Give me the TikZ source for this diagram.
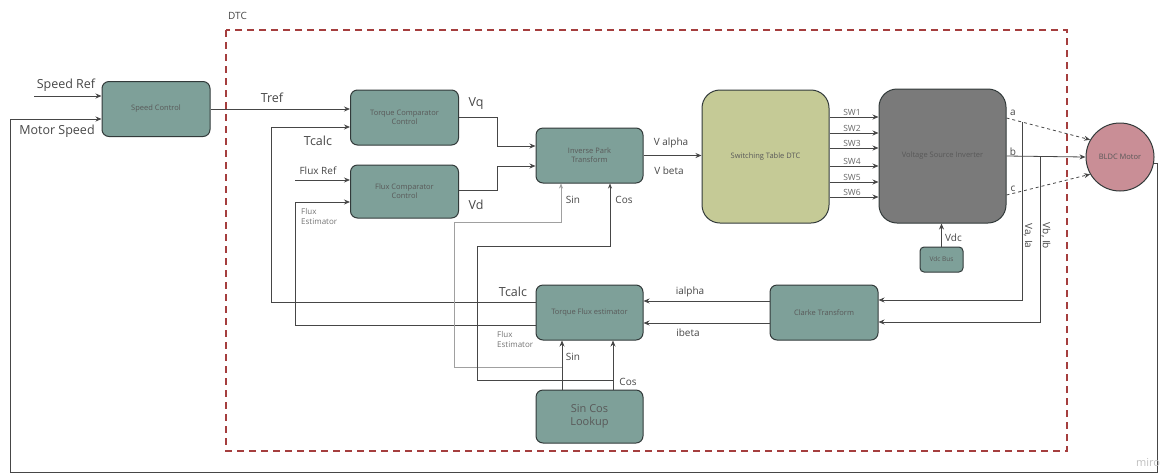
\documentclass[tikz,border=0pt]{standalone}
\usepackage{fontspec}
\setmainfont{Open Sans}
\usetikzlibrary{arrows.meta,positioning}
\definecolor{tealbox}{RGB}{126,160,153}
\definecolor{olivebox}{RGB}{197,202,150}
\definecolor{invgray}{RGB}{122,122,122}
\definecolor{motorpink}{RGB}{201,142,150}
\definecolor{edgegray}{RGB}{50,58,58}
\definecolor{dtcred}{RGB}{165,62,62}
\definecolor{wiregray}{RGB}{70,70,70}
\definecolor{lightwire}{RGB}{160,160,160}
\definecolor{labelgray}{RGB}{70,70,70}

\begin{document}
\begin{tikzpicture}[
  x=1pt, y=-1pt,
  block/.style={
    draw=edgegray,
    line width=1pt,
    rounded corners=7pt,
    fill=tealbox,
    align=center,
    font=\fontsize{7.5}{9}\selectfont,
    text=black!65,
    minimum width=108pt,
    minimum height=55pt,
    inner sep=2pt
  },
  bigblock/.style={
    block,
    minimum width=127pt,
    rounded corners=18pt
  },
  wire/.style={draw=wiregray, line width=0.8pt},
  feed/.style={wire, -{Stealth[length=6pt,width=5pt]}},
  sinwire/.style={draw=lightwire, line width=0.6pt, -{Stealth[length=5pt,width=4pt]}},
  biglbl/.style={font=\fontsize{12.5}{14}\selectfont, text=labelgray, inner sep=0pt},
  lbl/.style={font=\fontsize{10}{12}\selectfont, text=labelgray, inner sep=0pt},
  smalllbl/.style={font=\fontsize{8}{10}\selectfont, text=black!55, inner sep=0pt, align=left}
]
\useasboundingbox (0,0) rectangle (1161,475);

% DTC frame
\draw[dtcred, line width=1.4pt, dash pattern=on 7pt off 5pt] (226,30) rectangle (1067,451);
\node[lbl, anchor=west] (dtc) at (228,16) {DTC};

% blocks
\node[block] (spd) at (156,109) {Speed Control};
\node[block] (tcc) at (404.5,117.5) {Torque Comparator\\Control};
\node[block, minimum height=53pt] (fcc) at (404.5,191.5) {Flux Comparator\\Control};
\node[block, minimum width=107pt] (ipt) at (589.5,155.5) {Inverse Park\\Transform};
\node[bigblock, fill=olivebox, minimum height=133pt] (swt) at (765.5,156.5) {Switching Table DTC};
\node[bigblock, fill=invgray, minimum height=134pt] (vsi) at (942.5,156) {Voltage Source Inverter};
\node[block, minimum width=43pt, minimum height=25pt, rounded corners=4pt,
  font=\fontsize{6.5}{8}\selectfont] (vdc) at (941.5,259.5) {Vdc Bus};
\node[circle, draw=edgegray, line width=1pt, fill=motorpink, minimum size=68pt,
  font=\fontsize{7.5}{9}\selectfont, text=black!65, inner sep=0pt] (motor) at (1120,157) {BLDC Motor};
\node[block, minimum width=107pt] (tfe) at (589.5,312.5) {Torque Flux estimator};
\node[block, minimum width=107pt, minimum height=53pt, font=\fontsize{11}{13}\selectfont] (scl) at (589.5,416.5) {Sin Cos\\Lookup};
\node[block] (clk) at (824,312.5) {Clarke Transform};

% speed inputs
\coordinate (sref) at (34,96);
\draw[feed] (sref) -- (sref -| spd.west);
\node[biglbl] (sreflbl) at (66,85) {Speed Ref};
\draw[feed] (motor.-10) -| (1157,472) -| (10,119) -- (spd.west |- 10,119);
\node[biglbl] (mspdlbl) at (57,131) {Motor Speed};

% torque and flux loops
\draw[feed] (spd.east) -- (spd.east -| tcc.west);
\node[biglbl] (treflbl) at (272,98) {Tref};
\draw[feed] ([yshift=10.5pt]tfe.west) -| (271,127) -- ([yshift=-9.5pt]tcc.west);
\node[biglbl] (tcalcA) at (318,141) {Tcalc};
\node[biglbl] (tcalcB) at (513,292) {Tcalc};
\coordinate (fref) at (295,180);
\draw[feed] (fref) -- (fref -| fcc.west);
\node[lbl] (freflbl) at (318,171) {Flux Ref};
\draw[feed] ([yshift=-12.5pt]tfe.west) -| (295,202) -- ([yshift=-10.5pt]fcc.west);
\node[smalllbl, anchor=north west] (festA) at (301,208) {Flux\\Estimator};
\node[smalllbl, anchor=north west] (festB) at (497,331) {Flux\\Estimator};

% to inverse park
\draw[feed] (tcc.east) -| (497,146) -- ([yshift=9.5pt]ipt.west);
\draw[feed] ([yshift=1.5pt]fcc.east) -| (497,166) -- ([yshift=-10.5pt]ipt.west);
\node[biglbl] (vqlbl) at (476,104) {Vq};
\node[biglbl] (vdlbl) at (476,205) {Vd};
\draw[feed] (ipt.east) -- (ipt.east -| swt.west);
\node[lbl] (valbl) at (671,143) {V alpha};
\node[lbl] (vblbl) at (669,171) {V beta};

% switching signals
\foreach \i/\y in {1/117,2/133,3/148,4/166,5/182,6/197}
  \draw[feed] (swt.east |- 0,\y) -- (vsi.west |- 0,\y)
    node[midway, above=1.5pt, xshift=-2pt, font=\fontsize{8.5}{10}\selectfont, text=black!60, inner sep=0pt] {SW\i};

% dc bus
\draw[feed] (vdc.north) -- (vdc.north |- vsi.south);
\node[lbl, anchor=west] (vdclbl) at (945,238) {Vdc};

% phases
\draw[wire, dashed, -{Stealth[length=6pt,width=5pt]}] ([yshift=38pt]vsi.east) -- (motor.150);
\draw[feed] (vsi.east) -- (motor.west);
\draw[wire, dashed, -{Stealth[length=6pt,width=5pt]}] ([yshift=-39pt]vsi.east) -- (motor.210);
\node[lbl] (alb) at (1013,113) {a};
\node[lbl] (blb) at (1013,152) {b};
\node[lbl] (clb) at (1013,189) {c};

% current feedback
\coordinate (abr) at (1022,122);
\coordinate (bbr) at (1040,156);
\draw[feed] (abr) |- ([yshift=12.5pt]clk.east);
\draw[feed] (bbr) |- ([yshift=-9.5pt]clk.east);
\node[lbl, rotate=-90] (valbl2) at (1028,236) {Va, Ia};
\node[lbl, rotate=-90] (vblbl2) at (1046,236) {Vb, Ib};
\draw[feed] ([yshift=11.5pt]clk.west) -- ([yshift=11.5pt]tfe.east);
\draw[feed] ([yshift=-10.5pt]clk.west) -- ([yshift=-10.5pt]tfe.east);
\node[lbl] (ialbl) at (690,292) {ialpha};
\node[lbl] (iblbl) at (688,333) {ibeta};

% sin and cos
\draw[feed] ([xshift=-27.5pt]scl.north) -- ([xshift=-27.5pt]tfe.south);
\draw[feed] ([xshift=23.5pt]scl.north) -- ([xshift=23.5pt]tfe.south);
\node[lbl] (sinB) at (573,357) {Sin};
\node[lbl] (cosB) at (628,382) {Cos};
\coordinate (sinj) at (562,367);
\coordinate (cosj) at (613,380);
\draw[sinwire] (sinj) -| (454,222) -| ([xshift=-28.5pt]ipt.south);
\draw[wire, line width=0.6pt, -{Stealth[length=5pt,width=4pt]}] (cosj) -| (477,246) -| ([xshift=20.5pt]ipt.south);
\node[lbl] (sinA) at (573,200) {Sin};
\node[lbl] (cosA) at (624,200) {Cos};

\node[font=\fontsize{11}{12}\selectfont, text=black!25, anchor=west, inner sep=0pt] (miro) at (1136,463) {miro};
\end{tikzpicture}
\end{document}
